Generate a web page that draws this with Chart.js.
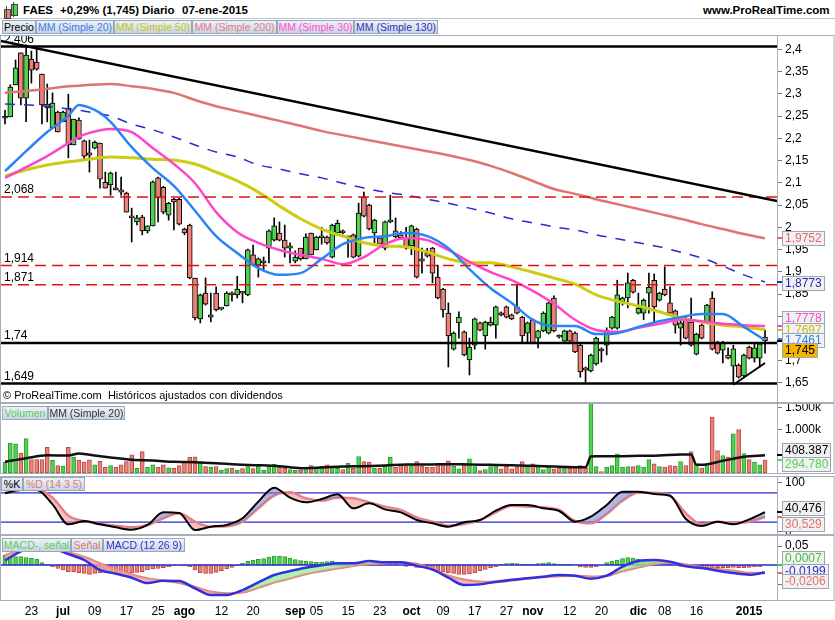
<!DOCTYPE html>
<html>
<head>
<meta charset="utf-8">
<script src="https://cdn.jsdelivr.net/npm/chart.js@4.4.1/dist/chart.umd.min.js"></script>
<style>
  html,body{margin:0;padding:0;background:#fff;}
  body{width:835px;height:620px;position:relative;overflow:hidden;font-family:"Liberation Sans",Arial,sans-serif;}
  canvas{position:absolute;left:0;}
  .t{position:absolute;white-space:nowrap;color:#000;}
  .hd{font-weight:bold;font-size:11.5px;top:4px;}
  .lg{position:absolute;height:14px;line-height:13px;font-size:10.5px;text-align:center;border:1px solid #98a8ba;background:linear-gradient(#eef2f7,#c9d5e2);box-sizing:border-box;white-space:nowrap;overflow:hidden;}
  .vb{position:absolute;left:782px;height:15px;line-height:13px;font-size:12px;padding:0 2px;border:1px solid #9aa6b4;background:#f1f1f1;box-sizing:border-box;white-space:nowrap;}
  .tk{position:absolute;left:777px;width:5px;height:2px;}
</style>
</head>
<body>
<!-- header -->
<div style="position:absolute;left:0;top:0;width:835px;height:18px;border-bottom:1px solid #b8c4d0;"></div>
<div style="position:absolute;left:4px;top:9px;width:5px;height:8px;background:#e8837a;border:1px solid #444;"></div>
<div style="position:absolute;left:6px;top:6px;width:1px;height:13px;background:#444;"></div>
<div style="position:absolute;left:11px;top:4px;width:5px;height:10px;background:#4fd24f;border:1px solid #444;"></div>
<div style="position:absolute;left:13px;top:2px;width:1px;height:15px;background:#444;"></div>
<div class="t hd" style="left:23px;">FAES</div>
<div class="t hd" style="left:60px;">+0,29% (1,745)</div>
<div class="t hd" style="left:142px;">Diario</div>
<div class="t hd" style="left:182px;">07-ene-2015</div>
<div class="t hd" style="left:703px;">www.ProRealTime.com</div>

<!-- legends -->
<div class="lg" style="left:2px;top:20px;width:34px;color:#000;">Precio</div>
<div class="lg" style="left:36px;top:20px;width:78px;color:#3a7ff0;">MM (Simple 20)</div>
<div class="lg" style="left:114px;top:20px;width:78px;color:#c4c41a;">MM (Simple 50)</div>
<div class="lg" style="left:192px;top:20px;width:85px;color:#e08080;">MM (Simple 200)</div>
<div class="lg" style="left:277px;top:20px;width:77px;color:#ff50d0;">MM (Simple 30)</div>
<div class="lg" style="left:354px;top:20px;width:84px;color:#3030c8;">MM (Simple 130)</div>

<canvas id="cPrice" width="835" height="368" style="top:35px"></canvas>
<canvas id="cVol" width="835" height="71" style="top:403px"></canvas>
<canvas id="cSto" width="835" height="59" style="top:476px"></canvas>
<canvas id="cMacd" width="835" height="85" style="top:535px"></canvas>

<div class="t" style="left:3px;top:389px;font-size:11px;">© ProRealTime.com&nbsp; Históricos ajustados con dividendos</div>

<div class="lg" style="left:2px;top:406px;width:46px;color:#58cc58;">Volumen</div>
<div class="lg" style="left:48px;top:406px;width:77px;color:#333;">MM (Simple 20)</div>
<div class="lg" style="left:1px;top:477px;width:22px;color:#000;">%K</div>
<div class="lg" style="left:23px;top:477px;width:62px;color:#e07878;">%D (14 3 5)</div>
<div class="lg" style="left:2px;top:538px;width:69px;color:#58cc58;">MACD-, señal</div>
<div class="lg" style="left:71px;top:538px;width:32px;color:#e07070;">Señal</div>
<div class="lg" style="left:103px;top:538px;width:82px;color:#3030d0;">MACD (12 26 9)</div>

<script>
// ---------------- DATA ----------------
const open  = [2.245,2.248,2.320,2.392,2.290,2.378,2.371,2.344,2.277,2.223,2.259,2.237,2.268,2.185,2.241,2.194,2.167,2.178,2.189,2.101,
2.095,2.088,2.084,2.077,2.023,2.012,2.023,1.992,2.003,2.111,2.090,2.027,2.063,2.063,1.996,2.005,1.886,1.794,1.852,1.798,
1.852,1.816,1.823,1.852,1.848,1.855,1.848,1.938,1.915,1.920,1.953,1.971,1.987,1.971,1.953,1.924,1.953,1.929,1.987,1.949,
1.976,1.978,1.933,1.987,1.992,1.976,1.983,1.935,2.068,2.050,1.987,1.976,1.953,2.012,1.992,1.983,1.978,1.958,1.996,1.929,
1.942,1.953,1.888,1.861,1.807,1.726,1.785,1.765,1.702,1.735,1.785,1.756,1.780,1.780,1.807,1.821,1.803,1.821,1.798,1.762,
1.792,1.751,1.767,1.762,1.841,1.756,1.744,1.767,1.762,1.735,1.684,1.677,1.693,1.727,1.735,1.773,1.773,1.832,1.841,1.881,
1.807,1.807,1.852,1.881,1.836,1.861,1.830,1.812,1.773,1.796,1.787,1.715,1.780,1.785,1.841,1.742,1.724,1.713,1.688,1.690,
1.666,1.731,1.706,1.706,1.753];
const high  = [2.263,2.320,2.376,2.392,2.410,2.396,2.403,2.344,2.322,2.302,2.261,2.261,2.299,2.243,2.246,2.196,2.196,2.194,2.189,2.124,
2.124,2.124,2.113,2.079,2.043,2.027,2.027,2.003,2.104,2.113,2.092,2.056,2.065,2.065,1.998,2.007,1.886,1.850,1.886,1.852,
1.866,1.818,1.855,1.855,1.890,1.855,1.951,1.960,1.931,1.933,1.994,2.021,2.012,2.005,1.965,1.947,1.953,1.985,1.987,1.980,
2.000,1.980,2.007,2.016,1.994,1.980,1.985,2.054,2.079,2.052,2.018,1.978,2.014,2.072,2.021,1.990,2.000,2.005,1.998,1.953,
1.953,1.955,1.915,1.863,1.830,1.765,1.810,1.767,1.751,1.796,1.787,1.789,1.798,1.823,1.810,1.823,1.805,1.870,1.800,1.787,
1.794,1.769,1.810,1.832,1.846,1.758,1.769,1.769,1.765,1.737,1.686,1.715,1.753,1.729,1.774,1.800,1.881,1.843,1.897,1.883,
1.852,1.839,1.897,1.895,1.854,1.911,1.866,1.814,1.796,1.798,1.841,1.762,1.783,1.827,1.855,1.744,1.744,1.729,1.735,1.693,
1.715,1.733,1.737,1.740,1.769];
const low   = [2.232,2.248,2.320,2.275,2.237,2.324,2.353,2.232,2.237,2.223,2.214,2.237,2.156,2.185,2.198,2.151,2.124,2.176,2.088,2.088,
2.072,2.084,2.072,2.034,1.967,2.005,1.983,1.987,2.003,2.012,2.030,2.016,1.994,2.005,1.983,1.884,1.792,1.785,1.825,1.787,
1.812,1.814,1.823,1.834,1.841,1.830,1.846,1.913,1.888,1.904,1.920,1.969,1.969,1.933,1.920,1.920,1.926,1.929,1.938,1.949,
1.962,1.962,1.931,1.985,1.985,1.933,1.931,1.933,2.023,1.994,1.965,1.960,1.949,2.010,1.976,1.974,1.951,1.938,1.886,1.897,
1.933,1.875,1.839,1.798,1.686,1.724,1.751,1.711,1.668,1.726,1.767,1.726,1.778,1.751,1.801,1.796,1.792,1.805,1.742,1.742,
1.738,1.729,1.765,1.760,1.765,1.751,1.742,1.740,1.718,1.663,1.652,1.675,1.690,1.697,1.713,1.771,1.771,1.825,1.819,1.852,
1.805,1.792,1.807,1.787,1.834,1.846,1.805,1.762,1.735,1.749,1.733,1.713,1.749,1.783,1.724,1.715,1.695,1.704,1.650,1.661,
1.664,1.704,1.697,1.686,1.717];
const close = [2.248,2.315,2.358,2.290,2.387,2.353,2.355,2.275,2.268,2.279,2.214,2.259,2.185,2.243,2.198,2.160,2.162,2.191,2.108,2.088,
2.122,2.084,2.079,2.034,2.021,2.021,1.992,2.003,2.102,2.066,2.034,2.054,2.057,2.007,1.987,1.886,1.796,1.848,1.827,1.803,
1.814,1.818,1.852,1.848,1.861,1.852,1.949,1.915,1.929,1.922,1.992,2.003,1.971,1.953,1.958,1.933,1.929,1.978,1.938,1.978,
1.978,1.965,2.005,2.009,1.987,1.978,1.933,2.032,2.025,1.996,2.016,1.962,2.012,2.016,1.978,1.976,1.953,2.003,1.888,1.924,
1.935,1.897,1.841,1.814,1.756,1.762,1.798,1.713,1.731,1.794,1.769,1.787,1.787,1.821,1.803,1.798,1.794,1.807,1.756,1.785,
1.740,1.767,1.807,1.830,1.767,1.753,1.767,1.744,1.720,1.675,1.679,1.713,1.751,1.722,1.769,1.798,1.848,1.841,1.875,1.854,
1.818,1.836,1.865,1.821,1.852,1.848,1.807,1.780,1.785,1.751,1.735,1.760,1.751,1.825,1.726,1.717,1.740,1.706,1.727,1.663,
1.713,1.706,1.729,1.738,1.745];
// volume in millions of shares
const volume = [0.25,0.69,0.67,0.46,0.79,0.31,0.31,0.31,0.59,0.29,0.17,0.16,0.59,0.36,0.29,0.25,0.30,0.19,0.27,0.13,
0.17,0.13,0.19,0.26,0.42,0.11,0.49,0.13,0.19,0.13,0.19,0.12,0.11,0.17,0.25,0.36,0.37,0.26,0.15,0.13,
0.15,0.06,0.10,0.11,0.06,0.10,0.15,0.10,0.16,0.06,0.15,0.20,0.13,0.11,0.08,0.06,0.06,0.08,0.17,0.13,
0.16,0.19,0.13,0.11,0.08,0.23,0.11,0.38,0.26,0.25,0.11,0.11,0.16,0.36,0.13,0.19,0.17,0.17,0.26,
0.157,0.134,0.134,0.211,0.188,0.280,0.157,0.096,0.211,0.326,0.149,0.057,0.080,0.149,0.172,0.096,0.157,0.096,0.134,0.264,
0.149,0.211,0.149,0.080,0.134,0.096,0.111,0.111,0.111,0.134,0.172,0.111,5.2,0.149,0.034,0.134,0.172,0.441,0.134,0.149,
0.149,0.172,0.134,0.310,0.211,0.149,0.134,0.172,0.157,0.264,0.172,0.494,0.211,0.111,0.172,1.283,0.517,0.402,0.364,0.900,
1.000,0.448,0.310,0.249,0.188,0.295];

// moving averages at these sessions
const maIdx  = [0,4,8,12,14,16,18,20,24,28,32,36,40,44,48,52,56,60,64,68,72,76,80,84,88,92,96,100,104,108,112,116,120,124,128,132,136,140,144];
const ma20   = [2.126,2.171,2.214,2.250,2.275,2.269,2.257,2.237,2.180,2.133,2.093,2.037,1.980,1.942,1.908,1.893,1.897,1.929,1.962,1.976,1.980,1.987,1.980,1.953,1.906,1.863,1.830,1.792,1.778,1.778,1.760,1.762,1.776,1.789,1.798,1.805,1.805,1.776,1.746];
const ma30   = [2.111,2.135,2.160,2.189,2.203,2.212,2.218,2.221,2.214,2.178,2.142,2.099,2.034,1.989,1.965,1.949,1.938,1.929,1.917,1.933,1.962,1.976,1.971,1.949,1.922,1.899,1.881,1.857,1.828,1.792,1.769,1.765,1.774,1.783,1.792,1.789,1.783,1.780,1.778];
const ma50   = [2.115,2.129,2.140,2.147,2.150,2.153,2.156,2.158,2.156,2.153,2.151,2.142,2.124,2.104,2.079,2.048,2.019,1.996,1.980,1.965,1.958,1.956,1.944,1.929,1.920,1.920,1.911,1.899,1.886,1.872,1.848,1.834,1.823,1.810,1.796,1.787,1.780,1.776,1.770];
const ma130  = [2.277,2.275,2.272,2.266,2.263,2.259,2.255,2.250,2.232,2.219,2.203,2.185,2.169,2.158,2.140,2.131,2.120,2.111,2.099,2.088,2.079,2.072,2.063,2.054,2.043,2.032,2.019,2.010,2.001,1.994,1.983,1.974,1.965,1.956,1.944,1.931,1.913,1.893,1.877];
const ma200  = [2.302,2.306,2.311,2.317,2.318,2.320,2.321,2.322,2.317,2.311,2.302,2.286,2.272,2.261,2.250,2.239,2.228,2.216,2.207,2.198,2.189,2.180,2.171,2.162,2.151,2.138,2.122,2.104,2.086,2.075,2.063,2.052,2.041,2.030,2.019,2.007,1.996,1.985,1.975];

// volume MA(20)
const vmaIdx = [0,4,8,12,14,16,20,24,28,32,36,40,44,48,52,56,60,64,68,72,76,80,84,88,92,96,100,104,108,110,111,112,116,120,124,128,130,131,132,136,140,144];
const vma    = [0.257,0.341,0.406,0.40,0.45,0.418,0.356,0.303,0.287,0.257,0.249,0.226,0.195,0.180,0.157,0.111,0.126,0.149,0.157,0.172,0.195,0.195,0.203,0.195,0.188,0.180,0.165,0.149,0.134,0.13,0.38,0.387,0.387,0.395,0.402,0.425,0.425,0.19,0.188,0.28,0.372,0.408];

// stochastic read every 3 sessions
const stIdx = [0,3,6,9,12,15,18,21,24,27,30,33,36,39,42,45,48,51,54,57,60,63,66,69,72,75,78,81,84,87,90,93,96,99,102,105,108,111,114,117,120,123,126,129,132,135,138,141,144];
const stK = [78.9,85.7,85.7,56.4,15.6,22.4,15.6,9.5,4.8,14.3,40.1,38.8,4.1,10.9,14.3,27.9,61.9,90.4,70.0,60.5,67.3,76.8,48.3,58.5,46.2,40.1,24.5,17.7,10.9,19.7,24.5,43.5,55.1,55.1,48.3,42.8,21.1,31.3,55.1,82.3,82.3,77.5,74.1,26.5,12.2,21.1,15.6,25.8,40.476];
const stD = [85.7,89.1,87.7,70.0,33.3,22.4,16.3,12.9,9.5,14.3,27.9,38.1,21.1,10.9,11.6,21.1,48.3,74.1,80.9,68.7,63.9,70.0,68.7,60.5,51.7,44.9,29.9,21.1,12.9,16.3,24.5,40.1,53.7,51.7,50.3,44.9,22.4,17.7,36.7,63.9,80.2,80.2,74.1,38.1,15.6,21.1,19.0,21.1,30.529];
const stLevels = [20, 80];

// MACD (12 26 9) read every 3 sessions
const macdLine = [0.012,0.036,0.048,0.044,0.0289,0.0132,-0.0132,-0.0228,-0.0333,-0.0474,-0.0412,-0.0421,-0.0614,-0.0789,-0.0789,-0.0658,-0.0456,-0.0263,-0.0158,-0.0070,-0.0009,0.0044,0.0044,0.0105,0.0070,0.0070,-0.0018,-0.0123,-0.0333,-0.0526,-0.0509,-0.0439,-0.0386,-0.0351,-0.0307,-0.0263,-0.0281,-0.0360,-0.0281,-0.0044,0.0105,0.0132,0.0088,-0.0035,-0.0079,-0.0149,-0.0211,-0.0254,-0.0199];
const signalLine = [0.025,0.038,0.044,0.042,0.0333,0.0211,0.0044,-0.0114,-0.0254,-0.0351,-0.0412,-0.0465,-0.0579,-0.0702,-0.0746,-0.0719,-0.0596,-0.0456,-0.0351,-0.0237,-0.0158,-0.0088,-0.0018,0.0026,0.0044,0.0061,0.0026,-0.0114,-0.0281,-0.0386,-0.0439,-0.0447,-0.0404,-0.0351,-0.0316,-0.0289,-0.0281,-0.0307,-0.0289,-0.0158,-0.0061,0.0026,0.0061,0.0009,-0.0061,-0.0114,-0.0149,-0.0211,-0.0206];
const macdHist = [0.0263,0.0219,0.0219,0.0219,0.0193,0.0175,0.0158,0.0061,0.0018,-0.0044,-0.0088,-0.0132,-0.0175,-0.0175,-0.0202,-0.0219,-0.0246,-0.0219,-0.0202,-0.0175,
-0.0175,-0.0193,-0.0219,-0.0219,-0.0202,-0.0193,-0.0175,-0.0132,-0.0105,-0.0088,-0.0070,-0.0044,-0.0018,-0.0009,-0.0026,-0.0044,-0.0132,-0.0202,-0.0219,-0.0219,
-0.0193,-0.0149,-0.0105,-0.0061,-0.0018,0.0044,0.0105,0.0132,0.0149,0.0167,0.0211,0.0237,0.0237,0.0219,0.0175,0.0140,0.0114,0.0096,0.0088,0.0070,
0.0079,0.0088,0.0096,0.0079,0.0070,0.0053,0.0044,0.0044,0.0044,0.0053,0.0044,0.0026,0.0035,0.0044,0.0026,0,-0.0035,-0.0018,-0.0061,
-0.0070,-0.0088,-0.0114,-0.0149,-0.0175,-0.0202,-0.0219,-0.0246,-0.0246,-0.0237,-0.0202,-0.0158,-0.0114,-0.0070,-0.0044,0.0018,0.0035,0.0044,0.0035,0.0026,
0.0026,0.0026,0.0035,0.0053,0.0061,0.0035,0.0026,0.0026,0.0018,0,-0.0053,-0.0061,-0.0061,-0.0044,0,0.0061,0.0105,0.0132,0.0167,0.0193,
0.0184,0.0149,0.0114,0.0088,0.0070,0.0053,0.0035,0.0026,0.0009,-0.0035,-0.0044,-0.0061,-0.0070,-0.0079,-0.0070,-0.0070,-0.0070,-0.0070,-0.0070,-0.0061,
-0.0070,-0.0070,-0.0061,-0.0053,-0.0044,0.0007];

// horizontal levels and trend lines
const levels      = [2.406, 2.068, 1.914, 1.871, 1.74, 1.649];
const levelLabels = ['2,406','2,068','1,914','1,871','1,74','1,649'];
const levelSolid  = [true, false, false, false, true, true];
const trendDown = [{x:-1, y:2.419}, {x:146.3, y:2.059}];
const trendUp   = [{x:138, y:1.646}, {x:144, y:1.695}];

// axes
const priceTicks = [1.65,1.7,1.75,1.8,1.85,1.9,1.95,2,2.05,2.1,2.15,2.2,2.25,2.3,2.35,2.4];
const volTicks = [1.0, 1.5];
const volTickLabels = ['1.000k','1.500k'];
const stTicks = [0, 100];
const macdTicks = [-0.05, 0.05];
const xTickIdx    = [5,11,17,23,29,34,41,47,55,59,65,71,77,83,89,95,100,107,113,120,125,131,141];
const xTickLabels = ['23','jul','09','17','25','ago','12','20','sep','05','15','23','oct','09','17','27','nov','12','20','dic','08','16','2015'];
const boldLabels = ['jul','ago','sep','oct','nov','dic','2015'];

// last-value tags
const priceTags = [
  {v:1.9752, t:'1,9752', c:'#e06a6a'},
  {v:1.8773, t:'1,8773', c:'#2626b8'},
  {v:1.7778, t:'1,7778', c:'#ff44cc'},
  {v:1.7697, t:'1,7697', c:'#c0c010'},
  {v:1.7461, t:'1,7461', c:'#2a80f0'},
  {v:1.745,  t:'1,745',  c:'#000'}
];
const volTags  = [{v:0.408387, t:'408.387', c:'#000'}, {v:0.29478, t:'294.780', c:'#58d058'}];
const stTags   = [{v:40.476, t:'40,476', c:'#000'}, {v:30.529, t:'30,529', c:'#e07070'}];
const macdTags = [{v:0.0007, t:'0,0007', c:'#40c040'}, {v:-0.0199, t:'-0,0199', c:'#2a2ad0'}, {v:-0.0206, t:'-0,0206', c:'#e07070'}];

// ---------------- STYLE / LAYOUT ----------------
const FONT = '"Liberation Sans", Arial, sans-serif';
const GREEN = '#4fd24f', RED = '#ec8277';
const XMIN = -0.76, XMAX = 146.27;
const idx = close.map((_, i) => i);
const fmtComma = v => String(+v.toFixed(4)).replace('.', ',');

Chart.defaults.font.family = FONT;
Chart.defaults.animation = false;
Chart.defaults.events = [];
Chart.defaults.plugins.legend.display = false;
Chart.defaults.plugins.tooltip.enabled = false;

const framePlugin = {
  id: 'frame',
  afterDraw(c) {
    const {ctx, chartArea: a} = c;
    ctx.save();
    ctx.strokeStyle = '#a6aeb8';
    ctx.lineWidth = 1;
    ctx.strokeRect(a.left - 0.5, a.top - 0.5, a.right - a.left + 1, a.bottom - a.top + 1);
    ctx.strokeRect(0.5, a.top - 0.5, 834 - 0.5, a.bottom - a.top + 1);
    ctx.restore();
  }
};

function xAxis(show) {
  return {
    type: 'linear', min: XMIN, max: XMAX, display: show, offset: false,
    grid: {display: false, drawTicks: false},
    border: {display: false},
    afterFit(s) { if (show) s.height = 20; s.paddingLeft = 0; s.paddingRight = 0; },
    afterBuildTicks(s) { s.ticks = xTickIdx.map(v => ({value: v})); },
    ticks: {
      autoSkip: false, maxRotation: 0, padding: 4, color: '#000',
      callback: (v) => xTickLabels[xTickIdx.indexOf(v)],
      font: (ctx) => {
        const lab = ctx.tick ? xTickLabels[xTickIdx.indexOf(ctx.tick.value)] : '';
        return {size: 12, family: FONT, weight: boldLabels.includes(lab) ? 'bold' : 'normal'};
      }
    }
  };
}
function yAxis(min, max, ticks, fmt) {
  return {
    position: 'right', min, max,
    afterFit(s) { s.width = 58; s.paddingTop = 0; s.paddingBottom = 0; },
    afterBuildTicks(s) { s.ticks = ticks.map(v => ({value: v})); },
    ticks: {callback: fmt, color: '#000', font: {size: 12, family: FONT}, padding: 3, autoSkip: false},
    grid: {drawOnChartArea: false, tickLength: 5, color: '#777'},
    border: {display: true, color: '#9aa2ac'}
  };
}

// ---------------- PRICE ----------------
const levelPlugin = {
  id: 'lvlLabels',
  afterDatasetsDraw(c) {
    const ctx = c.ctx, y = c.scales.y;
    ctx.save();
    ctx.font = '12px ' + FONT;
    ctx.fillStyle = '#000';
    ctx.textBaseline = 'bottom';
    levels.forEach((v, k) => ctx.fillText(levelLabels[k], 4, y.getPixelForValue(v) - 1));
    ctx.restore();
  }
};
function maDs(vals, color, w, dash, order) {
  return {type: 'line', data: maIdx.map((x, k) => ({x, y: vals[k]})), borderColor: color, borderWidth: w,
    borderDash: dash || [], pointRadius: 0, fill: false, cubicInterpolationMode: 'monotone', order};
}
const priceDatasets = [
  {type: 'bar', data: idx.map(i => ({x: i, y: [low[i], high[i]]})), backgroundColor: '#000', barThickness: 1, grouped: false, order: 30},
  {type: 'bar', data: idx.map(i => ({x: i, y: [open[i], close[i]]})),
   backgroundColor: idx.map(i => close[i] >= open[i] ? GREEN : RED), borderColor: '#000', borderWidth: 1, borderSkipped: false,
   barThickness: 5, minBarLength: 2, grouped: false, order: 29},
  maDs(ma200, '#e07470', 2.5, null, 12),
  maDs(ma130, '#2a2ad0', 1.5, [10, 9], 11),
  maDs(ma50, '#cccc10', 3, null, 10),
  maDs(ma30, '#ff44cc', 2.5, null, 9),
  maDs(ma20, '#2a84f4', 2.5, null, 8),
];
levels.forEach((v, k) => priceDatasets.push({
  type: 'line', data: [{x: XMIN, y: v}, {x: XMAX, y: v}],
  borderColor: levelSolid[k] ? '#000' : '#e41010', borderWidth: levelSolid[k] ? 2.5 : 1.5,
  borderDash: levelSolid[k] ? [] : [11, 6], pointRadius: 0, fill: false, order: 2
}));
priceDatasets.push({type: 'line', data: trendDown, borderColor: '#000', borderWidth: 2.5, pointRadius: 0, fill: false, order: 1});
priceDatasets.push({type: 'line', data: trendUp, borderColor: '#000', borderWidth: 2, pointRadius: 0, fill: false, order: 1});

const priceChart = new Chart(document.getElementById('cPrice'), {
  type: 'bar',
  data: {datasets: priceDatasets},
  options: {
    responsive: false, maintainAspectRatio: false,
    layout: {padding: {left: 1, top: 1, bottom: 1, right: 0}},
    scales: {x: xAxis(false), y: yAxis(1.6073, 2.4298, priceTicks, v => fmtComma(v))}
  },
  plugins: [framePlugin, levelPlugin]
});

// ---------------- VOLUME ----------------
const volChart = new Chart(document.getElementById('cVol'), {
  type: 'bar',
  data: {datasets: [
    {type: 'line', data: vmaIdx.map((x, k) => ({x, y: vma[k]})), borderColor: '#111', borderWidth: 2.5, pointRadius: 0, fill: false, cubicInterpolationMode: 'monotone', order: 1},
    {type: 'bar', data: idx.map(i => ({x: i, y: volume[i]})),
     backgroundColor: idx.map(i => close[i] >= open[i] ? GREEN : RED),
     borderColor: idx.map(i => close[i] >= open[i] ? '#2f9a2f' : '#b54a44'), borderWidth: 1, borderSkipped: false,
     barThickness: 4, grouped: false, order: 5}
  ]},
  options: {
    responsive: false, maintainAspectRatio: false,
    layout: {padding: {left: 1, top: 1, bottom: 1, right: 0}},
    scales: {x: xAxis(false), y: yAxis(0, 1.586, volTicks, v => volTickLabels[volTicks.indexOf(v)])}
  },
  plugins: [framePlugin]
});

// ---------------- STOCHASTIC ----------------
const stoDatasets = [
  {data: stIdx.map((x, k) => ({x, y: stK[k]})), borderColor: '#000', borderWidth: 2, pointRadius: 0,
   cubicInterpolationMode: 'monotone', fill: {target: 1, above: 'rgba(120,120,200,0.55)', below: 'rgba(240,140,140,0.55)'}, order: 1},
  {data: stIdx.map((x, k) => ({x, y: stD[k]})), borderColor: '#e98080', borderWidth: 2.5, pointRadius: 0,
   cubicInterpolationMode: 'monotone', fill: false, order: 2},
];
stLevels.forEach(v => stoDatasets.push({data: [{x: XMIN, y: v}, {x: XMAX, y: v}], borderColor: '#2a2ad0', borderWidth: 1.2, pointRadius: 0, fill: false, order: 3}));
const stoChart = new Chart(document.getElementById('cSto'), {
  type: 'line',
  data: {datasets: stoDatasets},
  options: {
    responsive: false, maintainAspectRatio: false,
    layout: {padding: {left: 1, top: 1, bottom: 1, right: 0}},
    scales: {x: xAxis(false), y: yAxis(-4.1, 112.2, stTicks, v => String(v))}
  },
  plugins: [framePlugin]
});

// ---------------- MACD ----------------
const macdChart = new Chart(document.getElementById('cMacd'), {
  type: 'bar',
  data: {datasets: [
    {type: 'bar', data: idx.map(i => ({x: i, y: macdHist[i]})),
     backgroundColor: idx.map(i => macdHist[i] >= 0 ? GREEN : RED),
     borderColor: idx.map(i => macdHist[i] >= 0 ? '#2f9a2f' : '#b54a44'), borderWidth: 1, borderSkipped: false,
     barThickness: 4, grouped: false, order: 10},
    {type: 'line', data: stIdx.map((x, k) => ({x, y: macdLine[k]})), borderColor: '#3030e0', borderWidth: 2.5, pointRadius: 0,
     cubicInterpolationMode: 'monotone', fill: {target: 2, above: 'rgba(150,235,150,0.75)', below: 'rgba(242,160,160,0.75)'}, order: 1},
    {type: 'line', data: stIdx.map((x, k) => ({x, y: signalLine[k]})), borderColor: '#e98080', borderWidth: 2.5, pointRadius: 0,
     cubicInterpolationMode: 'monotone', fill: false, order: 2},
    {type: 'line', data: [{x: XMIN, y: 0}, {x: XMAX, y: 0}], borderColor: '#2a2ad0', borderWidth: 1.5, pointRadius: 0, fill: false, order: 3}
  ]},
  options: {
    responsive: false, maintainAspectRatio: false,
    layout: {padding: {left: 1, top: 1, bottom: 0, right: 0}},
    scales: {x: xAxis(true), y: yAxis(-0.092, 0.0763, macdTicks, v => fmtComma(v))}
  },
  plugins: [framePlugin]
});

// ---------------- value tags ----------------
function addTags(chart, top, tags, offsets, special) {
  tags.forEach((g, k) => {
    const yNom = top + chart.scales.y.getPixelForValue(g.v);
    const tk = document.createElement('div');
    tk.className = 'tk'; tk.style.top = (yNom - 1) + 'px'; tk.style.background = g.c;
    document.body.appendChild(tk);
    const d = document.createElement('div');
    d.className = 'vb'; d.textContent = g.t; d.style.color = g.c;
    d.style.top = (yNom + offsets[k] - 7) + 'px';
    if (special && special[k]) Object.assign(d.style, special[k]);
    document.body.appendChild(d);
  });
}
addTags(priceChart, 35, priceTags, [0, 1, -8, 0, 0, 9], [null, null, null, null, null, {background: '#f4b400'}]);
addTags(volChart, 403, volTags, [-5, 4]);
addTags(stoChart, 476, stTags, [-4, 7]);
addTags(macdChart, 535, macdTags, [-7, -2, 8]);
</script>
</body>
</html>
